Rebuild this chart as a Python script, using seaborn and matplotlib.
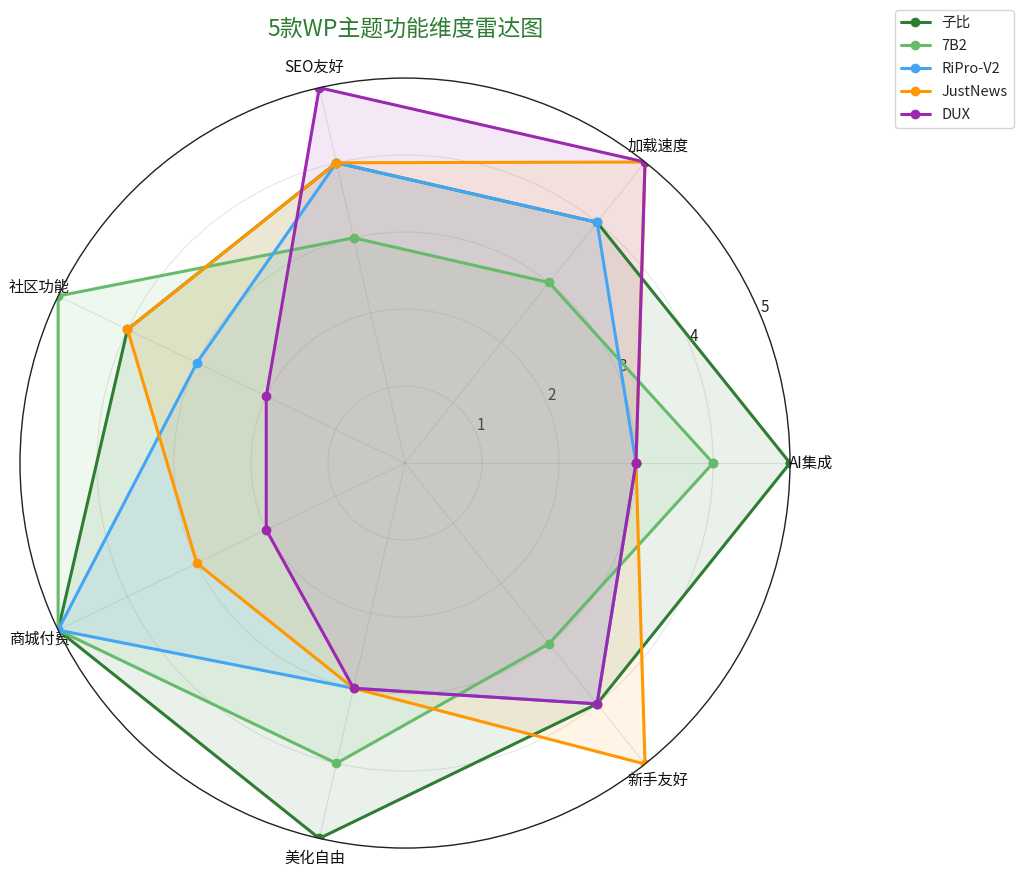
import numpy as np
import pandas as pd
import matplotlib
matplotlib.use('Agg')
import matplotlib.pyplot as plt
import seaborn as sns

# --- data ---
dimensions = ['AI集成', '加载速度', 'SEO友好', '社区功能', '商城付费', '美化自由', '新手友好']
themes = ['子比', '7B2', 'RiPro-V2', 'JustNews', 'DUX']
scores_zibi = [5, 4, 4, 4, 5, 5, 4]
scores_7b2 = [4, 3, 3, 5, 5, 4, 3]
scores_ripro = [3, 4, 4, 3, 5, 3, 4]
scores_justnews = [3, 5, 4, 4, 3, 3, 5]
scores_dux = [3, 5, 5, 2, 2, 3, 4]
colors = ['#2E7D32', '#66BB6A', '#42A5F5', '#FF9800', '#9C27B0']

sns.set_theme(style='white')
plt.rcParams['font.family'] = ['Noto Sans CJK SC', 'DejaVu Sans']
plt.rcParams['axes.unicode_minus'] = False

all_scores = [scores_zibi, scores_7b2, scores_ripro, scores_justnews, scores_dux]
angles = np.linspace(0, 2 * np.pi, len(dimensions), endpoint=False)

# long table, polygon closed by repeating the first point at 2*pi
rows = []
for name, vals in zip(themes, all_scores):
    for i in range(len(dimensions) + 1):
        k = i % len(dimensions)
        rows.append({'theme': name, 'angle': angles[k] if i < len(dimensions) else 2 * np.pi,
                     'score': vals[k]})
df = pd.DataFrame(rows)

fig = plt.figure(figsize=(10.24, 8.77), dpi=100)
ax = fig.add_axes([0.0195, 0.033, 0.752, 0.878], projection='polar')
ax.set_axisbelow(True)

for name, color in zip(themes, colors):
    sub = df[df['theme'] == name]
    sns.lineplot(data=sub, x='angle', y='score', sort=False, ax=ax, color=color,
                 linewidth=2.2, marker='o', markersize=7, markeredgewidth=0, label=name)
    ax.fill(sub['angle'], sub['score'], color=color, alpha=0.1)

ax.set_ylim(0, 5)
ax.set_yticks([1, 2, 3, 4, 5])
ax.set_yticklabels(['1', '2', '3', '4', '5'], fontsize=11, color='#222222')
ax.set_rlabel_position(22.5)
ax.set_xticks(angles)
ax.set_xticklabels(dimensions, fontsize=11, color='#111111')
ax.tick_params(axis='x', pad=2)
ax.set_xlabel('')
ax.set_ylabel('')
ax.grid(True, color='#b0b0b0', linewidth=0.8, alpha=0.3)
ax.spines['polar'].set_color('#222222')
ax.spines['polar'].set_linewidth(1)

ax.legend_.remove()
handles, labels = ax.get_legend_handles_labels()
fig.legend(handles, labels, loc='upper right', bbox_to_anchor=(0.997, 0.997),
           fontsize=10.5, labelspacing=0.62, frameon=True)

fig.text(0.396, 0.967, '5款WP主题功能维度雷达图', ha='center', va='center',
         fontsize=16.5, color='#2E7D32')

fig.savefig('out.png', dpi=100)
